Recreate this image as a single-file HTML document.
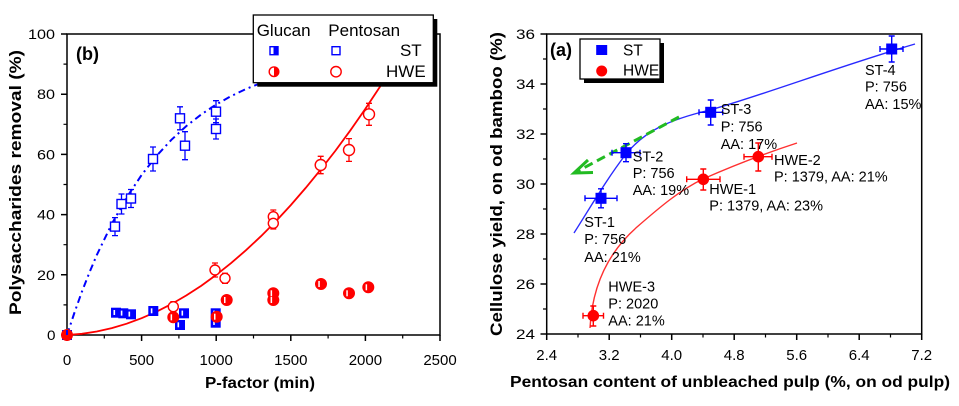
<!DOCTYPE html>
<html><head><meta charset="utf-8"><style>
html,body{margin:0;padding:0;background:#fff;}
svg{display:block;}
text{font-family:"Liberation Sans",Arial,sans-serif;fill:#000;}
</style></head><body>
<svg width="959" height="406" viewBox="0 0 959 406" xmlns="http://www.w3.org/2000/svg">
<rect width="959" height="406" fill="#fff"/>

<!-- ============ LEFT CHART (b) ============ -->
<g stroke="#000" stroke-width="1.5" fill="none">
  <rect x="67" y="34" width="373" height="301"/>
  <!-- y ticks -->
  <path d="M61 335H67M61 274.8H67M61 214.6H67M61 154.4H67M61 94.2H67M61 34H67"/>
  <path d="M63.5 304.9H67M63.5 244.7H67M63.5 184.5H67M63.5 124.3H67M63.5 64.1H67" stroke-width="1.2"/>
  <!-- x ticks -->
  <path d="M67 335V341M141.6 335V341M216.2 335V341M290.8 335V341M365.4 335V341M440 335V341"/>
  <path d="M104.3 335V338.5M178.9 335V338.5M253.5 335V338.5M328.1 335V338.5M402.7 335V338.5" stroke-width="1.2"/>
</g>
<g font-size="14">
  <text x="28" y="39" textLength="27" lengthAdjust="spacingAndGlyphs">100</text>
  <text x="37" y="99.2" textLength="18" lengthAdjust="spacingAndGlyphs">80</text>
  <text x="37" y="159.4" textLength="18" lengthAdjust="spacingAndGlyphs">60</text>
  <text x="37" y="219.6" textLength="18" lengthAdjust="spacingAndGlyphs">40</text>
  <text x="37" y="279.8" textLength="18" lengthAdjust="spacingAndGlyphs">20</text>
  <text x="47" y="340" textLength="8.5" lengthAdjust="spacingAndGlyphs">0</text>
</g>
<g font-size="15" text-anchor="middle">
  <text x="67" y="365">0</text>
  <text x="141.6" y="365">500</text>
  <text x="216.2" y="365">1000</text>
  <text x="290.8" y="365">1500</text>
  <text x="365.4" y="365">2000</text>
  <text x="440" y="365">2500</text>
</g>
<text x="205" y="388" font-size="16" font-weight="bold" textLength="110" lengthAdjust="spacingAndGlyphs">P-factor (min)</text>
<text transform="translate(21,182.5) rotate(-90)" text-anchor="middle" font-size="16.5" font-weight="bold" textLength="265" lengthAdjust="spacingAndGlyphs">Polysaccharides removal (%)</text>
<text x="76" y="60" font-size="18" font-weight="bold">(b)</text>

<!-- curves -->
<polyline fill="none" stroke="#0000ff" stroke-width="2" stroke-dasharray="7 4 2 4" points="67,335 74.5,312.5 81.9,291.7 89.4,272.6 96.8,255 111.8,223.9 126.7,197.4 141.6,175 156.5,155.9 171.4,139.8 186.4,126 201.3,114.4 216.2,104.5 231.1,96.1 246,89 261,83"/>
<polyline fill="none" stroke="#ff0000" stroke-width="1.8" points="67,335 81.9,333.8 96.8,331.5 111.8,328.1 126.7,323.7 141.6,318.2 156.5,311.7 171.4,304.1 186.4,295.4 201.3,285.7 216.2,274.9 231.1,263.1 246,250.2 261,236.2 275.9,221.2 290.8,205.1 305.7,187.9 320.6,169.7 335.6,150.5 350.5,130.2 365.4,108.8 380.3,86.3"/>

<!-- pentosan ST error bars -->
<g stroke="#0000ff" stroke-width="1.3" fill="none">
  <path d="M115 217.6V235.6M112 217.6H118M112 235.6H118"/>
  <path d="M121.5 194V214M118.5 194H124.5M118.5 214H124.5"/>
  <path d="M131 189.5V207.5M128 189.5H134M128 207.5H134"/>
  <path d="M153 147V171M150 147H156M150 171H156"/>
  <path d="M180 106.8V129.8M177 106.8H183M177 129.8H183"/>
  <path d="M185 131.7V159.7M182 131.7H188M182 159.7H188"/>
  <path d="M216 100.7V122.7M213 100.7H219M213 122.7H219"/>
  <path d="M216 119V139M213 119H219M213 139H219"/>
</g>
<!-- glucan ST half squares -->
<g fill="#0000ff">
  <rect x="62" y="330" width="10" height="10"/>
  <rect x="111" y="307.7" width="10" height="10"/>
  <rect x="118.3" y="308.3" width="10" height="10"/>
  <rect x="126" y="309.3" width="10" height="10"/>
  <rect x="148.3" y="306" width="10" height="10"/>
  <rect x="179" y="308.3" width="10" height="10"/>
  <rect x="175" y="320" width="10" height="10"/>
  <rect x="210.7" y="308.3" width="10" height="10"/>
  <rect x="210.7" y="317.7" width="10" height="10"/>
</g>
<g fill="#fff">
  <rect x="113.5" y="310" width="1.6" height="5"/>
  <rect x="120.8" y="310.6" width="1.6" height="5"/>
  <rect x="128.5" y="311.6" width="1.6" height="5"/>
  <rect x="150.8" y="308.3" width="1.6" height="5"/>
  <rect x="181.5" y="310.6" width="1.6" height="5"/>
  <rect x="177.5" y="322.3" width="1.6" height="5"/>
  <rect x="213.2" y="310.6" width="1.6" height="5"/>
  <rect x="213.2" y="320" width="1.6" height="5"/>
</g>
<!-- pentosan ST open squares -->
<g fill="#fff" stroke="#0000ff" stroke-width="1.4">
  <rect x="110.5" y="222.1" width="9" height="9"/>
  <rect x="117" y="199.5" width="9" height="9"/>
  <rect x="126.5" y="194" width="9" height="9"/>
  <rect x="148.5" y="154.5" width="9" height="9"/>
  <rect x="175.5" y="113.8" width="9" height="9"/>
  <rect x="180.5" y="141.2" width="9" height="9"/>
  <rect x="211.5" y="107.2" width="9" height="9"/>
  <rect x="211.5" y="124.5" width="9" height="9"/>
</g>

<!-- pentosan HWE error bars -->
<g stroke="#ff0000" stroke-width="1.3" fill="none">
  <path d="M173.3 301.7V311.7M170.3 301.7H176.3M170.3 311.7H176.3"/>
  <path d="M215 263V277M212 263H218M212 277H218"/>
  <path d="M225 273.3V283.3M222 273.3H228M222 283.3H228"/>
  <path d="M273.3 210V229M270.3 210H276.3M270.3 229H276.3"/>
  <path d="M320.7 156.3V173.7M317.7 156.3H323.7M317.7 173.7H323.7"/>
  <path d="M349 138.6V161.4M346 138.6H352M346 161.4H352"/>
  <path d="M369 103.3V125.3M366 103.3H372M366 125.3H372"/>
</g>
<!-- glucan HWE half circles -->
<g fill="#ff0000" stroke="#ff0000" stroke-width="1">
  <circle cx="67" cy="335" r="5.5"/>
  <circle cx="173.3" cy="317.3" r="5.5"/>
  <circle cx="216.7" cy="316.7" r="5.5"/>
  <circle cx="226.7" cy="300" r="5.5"/>
  <circle cx="273.3" cy="293.3" r="5.5"/>
  <circle cx="273.3" cy="300" r="5.5"/>
  <circle cx="321" cy="284" r="5.5"/>
  <circle cx="349" cy="293.3" r="5.5"/>
  <circle cx="368.3" cy="287.3" r="5.5"/>
</g>
<g fill="#fff">
  <rect x="170.6" y="314.3" width="1.5" height="6"/>
  <rect x="214" y="313.7" width="1.5" height="6"/>
  <rect x="224" y="297" width="1.5" height="6"/>
  <rect x="270.6" y="290.3" width="1.5" height="6"/>
  <rect x="270.6" y="297" width="1.5" height="6"/>
  <rect x="318.3" y="281" width="1.5" height="6"/>
  <rect x="346.3" y="290.3" width="1.5" height="6"/>
  <rect x="365.6" y="284.3" width="1.5" height="6"/>
</g>
<!-- pentosan HWE open circles -->
<g fill="#fff" stroke="#ff0000" stroke-width="1.4">
  <circle cx="173.3" cy="306.7" r="5"/>
  <circle cx="215" cy="270" r="5"/>
  <circle cx="225" cy="278.3" r="5"/>
  <circle cx="273.3" cy="216.7" r="5"/>
  <circle cx="273.3" cy="223.3" r="5"/>
  <circle cx="320.7" cy="165" r="5.5"/>
  <circle cx="349" cy="150" r="5.5"/>
  <circle cx="369" cy="114.3" r="5.5"/>
</g>
<path d="M67 335V330" stroke="#0000ff" stroke-width="2"/>

<!-- left legend -->
<rect x="257.3" y="19" width="180" height="67.7" fill="#000"/>
<rect x="253.3" y="15" width="180" height="67.7" fill="#fff" stroke="#000" stroke-width="1.3"/>
<g font-size="17">
  <text x="256.7" y="36">Glucan</text>
  <text x="328.3" y="36">Pentosan</text>
  <text x="421.7" y="56" text-anchor="end">ST</text>
  <text x="425.7" y="77" text-anchor="end">HWE</text>
</g>
<rect x="270" y="46.7" width="8" height="8" fill="#fff" stroke="#0000ff" stroke-width="1.4"/>
<rect x="273.5" y="46.7" width="4.5" height="8" fill="#0000ff"/>
<rect x="332" y="46.7" width="8" height="8" fill="#fff" stroke="#0000ff" stroke-width="1.4"/>
<circle cx="274" cy="71.7" r="4.8" fill="#fff" stroke="#ff0000" stroke-width="1.4"/>
<path d="M274 66.9A4.8 4.8 0 0 1 274 76.5Z" fill="#ff0000"/>
<circle cx="336" cy="71.7" r="5.2" fill="#fff" stroke="#ff0000" stroke-width="1.4"/>

<!-- ============ RIGHT CHART (a) ============ -->
<g stroke="#000" stroke-width="1.5" fill="none">
  <rect x="546.7" y="34" width="375" height="300"/>
  <path d="M540.5 334H546.7M540.5 284H546.7M540.5 234H546.7M540.5 184H546.7M540.5 134H546.7M540.5 84H546.7M540.5 34H546.7"/>
  <path d="M543 309H546.7M543 259H546.7M543 209H546.7M543 159H546.7M543 109H546.7M543 59H546.7" stroke-width="1.2"/>
  <path d="M546.7 334V340M609.2 334V340M671.7 334V340M734.2 334V340M796.7 334V340M859.2 334V340M921.7 334V340"/>
  <path d="M578 334V337.5M640.5 334V337.5M703 334V337.5M765.5 334V337.5M828 334V337.5M890.5 334V337.5" stroke-width="1.2"/>
</g>
<g font-size="14">
  <text x="516" y="39" textLength="19" lengthAdjust="spacingAndGlyphs">36</text>
  <text x="516" y="89" textLength="19" lengthAdjust="spacingAndGlyphs">34</text>
  <text x="516" y="139" textLength="19" lengthAdjust="spacingAndGlyphs">32</text>
  <text x="516" y="189" textLength="19" lengthAdjust="spacingAndGlyphs">30</text>
  <text x="516" y="239" textLength="19" lengthAdjust="spacingAndGlyphs">28</text>
  <text x="516" y="289" textLength="19" lengthAdjust="spacingAndGlyphs">26</text>
  <text x="516" y="339" textLength="19" lengthAdjust="spacingAndGlyphs">24</text>
</g>
<g font-size="15" text-anchor="middle">
  <text x="546.7" y="360">2.4</text>
  <text x="609.2" y="360">3.2</text>
  <text x="671.7" y="360">4.0</text>
  <text x="734.2" y="360">4.8</text>
  <text x="796.7" y="360">5.6</text>
  <text x="859.2" y="360">6.4</text>
  <text x="921.7" y="360">7.2</text>
</g>
<text x="510" y="387" font-size="16" font-weight="bold" textLength="440" lengthAdjust="spacingAndGlyphs">Pentosan content of unbleached pulp (%, on od pulp)</text>
<text transform="translate(502,184) rotate(-90)" text-anchor="middle" font-size="16.5" font-weight="bold" textLength="304" lengthAdjust="spacingAndGlyphs">Cellulose yield, on od bamboo (%)</text>
<text x="550" y="56" font-size="18" font-weight="bold">(a)</text>

<!-- curves -->
<path d="M574 233C590 208 606 180 626 154C645 131 668 120 710 110C760 96 840 66 915 44" fill="none" stroke="#2a2aff" stroke-width="1.4"/>
<path d="M590 328C592 290 605 255 637 227C660 207 680 190 703 179C730 167 760 155 797 143" fill="none" stroke="#ff3030" stroke-width="1.4"/>
<!-- green arrow -->
<line x1="679" y1="117" x2="578" y2="171" stroke="#22bb22" stroke-width="3" stroke-dasharray="9 5"/>
<polyline points="588,160 574,173 593,172.5" fill="none" stroke="#22bb22" stroke-width="3"/>

<!-- ST error bars -->
<g stroke="#0000ff" stroke-width="1.4" fill="none">
  <path d="M585 198.3H617M585 195.3V201.3M617 195.3V201.3M601 188.8V207.8M598 188.8H604M598 207.8H604"/>
  <path d="M612 152.7H640M612 149.7V155.7M640 149.7V155.7M626 143.7V161.7M623 143.7H629M623 161.7H629"/>
  <path d="M699 112.3H722.7M699 109.3V115.3M722.7 109.3V115.3M710.7 100V125M707.7 100H713.7M707.7 125H713.7"/>
  <path d="M880 49H903M880 46V52M903 46V52M891.7 36V62M888.7 36H894.7M888.7 62H894.7"/>
</g>
<g fill="#0000ff">
  <rect x="595.5" y="192.8" width="11" height="11"/>
  <rect x="620.5" y="147.2" width="11" height="11"/>
  <rect x="705.2" y="106.8" width="11" height="11"/>
  <rect x="886.2" y="43.5" width="11" height="11"/>
</g>
<!-- HWE error bars -->
<g stroke="#ff0000" stroke-width="1.4" fill="none">
  <path d="M686.7 179.3H720M686.7 176.3V182.3M720 176.3V182.3M703.3 169V190M700.3 169H706.3M700.3 190H706.3"/>
  <path d="M744 156.7H772M744 153.7V159.7M772 153.7V159.7M758.3 143V171M755.3 143H761.3M755.3 171H761.3"/>
  <path d="M583 315.7H603.5M583 312.7V318.7M603.5 312.7V318.7M593.3 306V326M590.3 306H596.3M590.3 326H596.3"/>
</g>
<g fill="#ff0000">
  <circle cx="703.3" cy="179.3" r="5.8"/>
  <circle cx="758.3" cy="156.7" r="5.8"/>
  <circle cx="593.3" cy="315.7" r="5.8"/>
</g>

<!-- point labels -->
<g font-size="14.5">
  <text x="865" y="75">ST-4</text>
  <text x="865" y="91.5">P: 756</text>
  <text x="865" y="109">AA: 15%</text>
  <text x="720.7" y="114">ST-3</text>
  <text x="720.7" y="131.5">P: 756</text>
  <text x="720.7" y="149">AA: 17%</text>
  <text x="632.7" y="161.5">ST-2</text>
  <text x="632.7" y="178">P: 756</text>
  <text x="632.7" y="195">AA: 19%</text>
  <text x="774" y="165">HWE-2</text>
  <text x="774" y="181.5">P: 1379, AA: 21%</text>
  <text x="709.3" y="194">HWE-1</text>
  <text x="709.3" y="210.5">P: 1379, AA: 23%</text>
  <text x="584.3" y="227">ST-1</text>
  <text x="584.3" y="244">P: 756</text>
  <text x="584.3" y="262">AA: 21%</text>
  <text x="608.3" y="291.5">HWE-3</text>
  <text x="608.3" y="308.5">P: 2020</text>
  <text x="608.3" y="325.5">AA: 21%</text>
</g>

<!-- right legend -->
<rect x="584" y="43" width="80" height="40" fill="#000"/>
<rect x="580" y="39" width="80" height="40" fill="#fff" stroke="#000" stroke-width="1.3"/>
<rect x="596.2" y="45" width="11" height="10" fill="#0000ff"/>
<circle cx="601.7" cy="71" r="5.5" fill="#ff0000"/>
<g font-size="15.5">
  <text x="623" y="55.5">ST</text>
  <text x="623" y="75.5">HWE</text>
</g>
</svg>
</body></html>
